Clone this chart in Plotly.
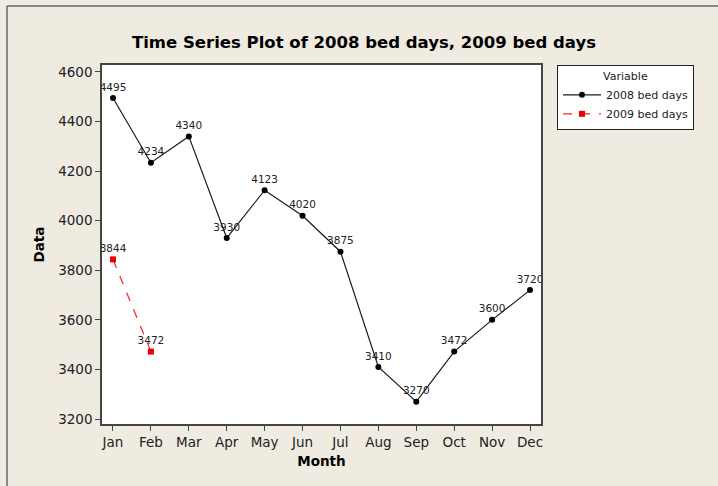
import plotly.graph_objects as go

months = ["Jan", "Feb", "Mar", "Apr", "May", "Jun", "Jul", "Aug", "Sep", "Oct", "Nov", "Dec"]
bed_2008 = [4495, 4234, 4340, 3930, 4123, 4020, 3875, 3410, 3270, 3472, 3600, 3720]
months_2009 = ["Jan", "Feb"]
bed_2009 = [3844, 3472]
y_ticks = [3200, 3400, 3600, 3800, 4000, 4200, 4400, 4600]

font_family = "DejaVu Sans"
txt = "#222222"

fig = go.Figure()
fig.add_trace(go.Scatter(
    x=months, y=bed_2008, name="2008 bed days", mode="lines+markers+text",
    line=dict(color="#1a1a1a", width=1.2),
    marker=dict(color="black", size=6, symbol="circle"),
    text=[str(v) for v in bed_2008], textposition="top center",
    textfont=dict(size=10.5, color=txt, family=font_family),
    cliponaxis=False,
))
fig.add_trace(go.Scatter(
    x=months_2009, y=bed_2009, name="2009 bed days", mode="lines+markers+text",
    line=dict(color="#ff2020", width=1.2, dash="dash"),
    marker=dict(color="#ee0000", size=6, symbol="square"),
    text=[str(v) for v in bed_2009], textposition="top center",
    textfont=dict(size=10.5, color=txt, family=font_family),
    cliponaxis=False,
))

bg = "#EFEBE1"
fig.update_layout(
    width=718, height=486,
    paper_bgcolor=bg, plot_bgcolor="white",
    margin=dict(l=102, r=177, t=65, b=62),
    font=dict(family=font_family, color=txt, size=13),
    title=dict(text="<b>Time Series Plot of 2008 bed days, 2009 bed days</b>",
               x=364/718, xanchor="center", y=1 - 42/486, yanchor="middle",
               font=dict(size=16.5, color="black", family=font_family)),
    showlegend=True,
    legend=dict(x=(557 - 102) / 439, xanchor="left", y=1.0, yanchor="top",
                bgcolor="white", bordercolor="#222222", borderwidth=1,
                title=dict(text="Variable", side="top center", font=dict(size=11)),
                font=dict(size=11, color=txt, family=font_family),
                itemwidth=38, tracegroupgap=0,
                entrywidth=112, entrywidthmode="pixels"),
    shapes=[
        dict(type="line", xref="paper", yref="paper",
             x0=(7 - 102) / 439, x1=(760 - 102) / 439,
             y0=1 + 59 / 359, y1=1 + 59 / 359, line=dict(color="#666666", width=1.5)),
        dict(type="line", xref="paper", yref="paper",
             x0=(7 - 102) / 439, x1=(7 - 102) / 439,
             y0=1 + 59 / 359, y1=-0.5, line=dict(color="#666666", width=1.5)),
    ],
)
fig.update_xaxes(
    type="category", categoryorder="array", categoryarray=months,
    range=[-0.29, 11.29],
    showgrid=False, zeroline=False,
    showline=True, linecolor="#444444", linewidth=1.5, mirror=True,
    ticks="outside", ticklen=5, tickcolor="#444444", tickwidth=1,
    tickfont=dict(size=13.5, color=txt),
    title=dict(text="<b>Month</b>", font=dict(size=13.5, color="black"), standoff=8),
)
fig.update_yaxes(
    range=[3180, 4628], tickvals=y_ticks,
    showgrid=False, zeroline=False,
    showline=True, linecolor="#444444", linewidth=1.5, mirror=True,
    ticks="outside", ticklen=5, tickcolor="#444444", tickwidth=1,
    tickfont=dict(size=13.5, color=txt),
    title=dict(text="<b>Data</b>", font=dict(size=13.5, color="black"), standoff=10),
)

fig.write_html("out.html", config={"displayModeBar": False},
               post_script="document.body.style.margin='0';")
